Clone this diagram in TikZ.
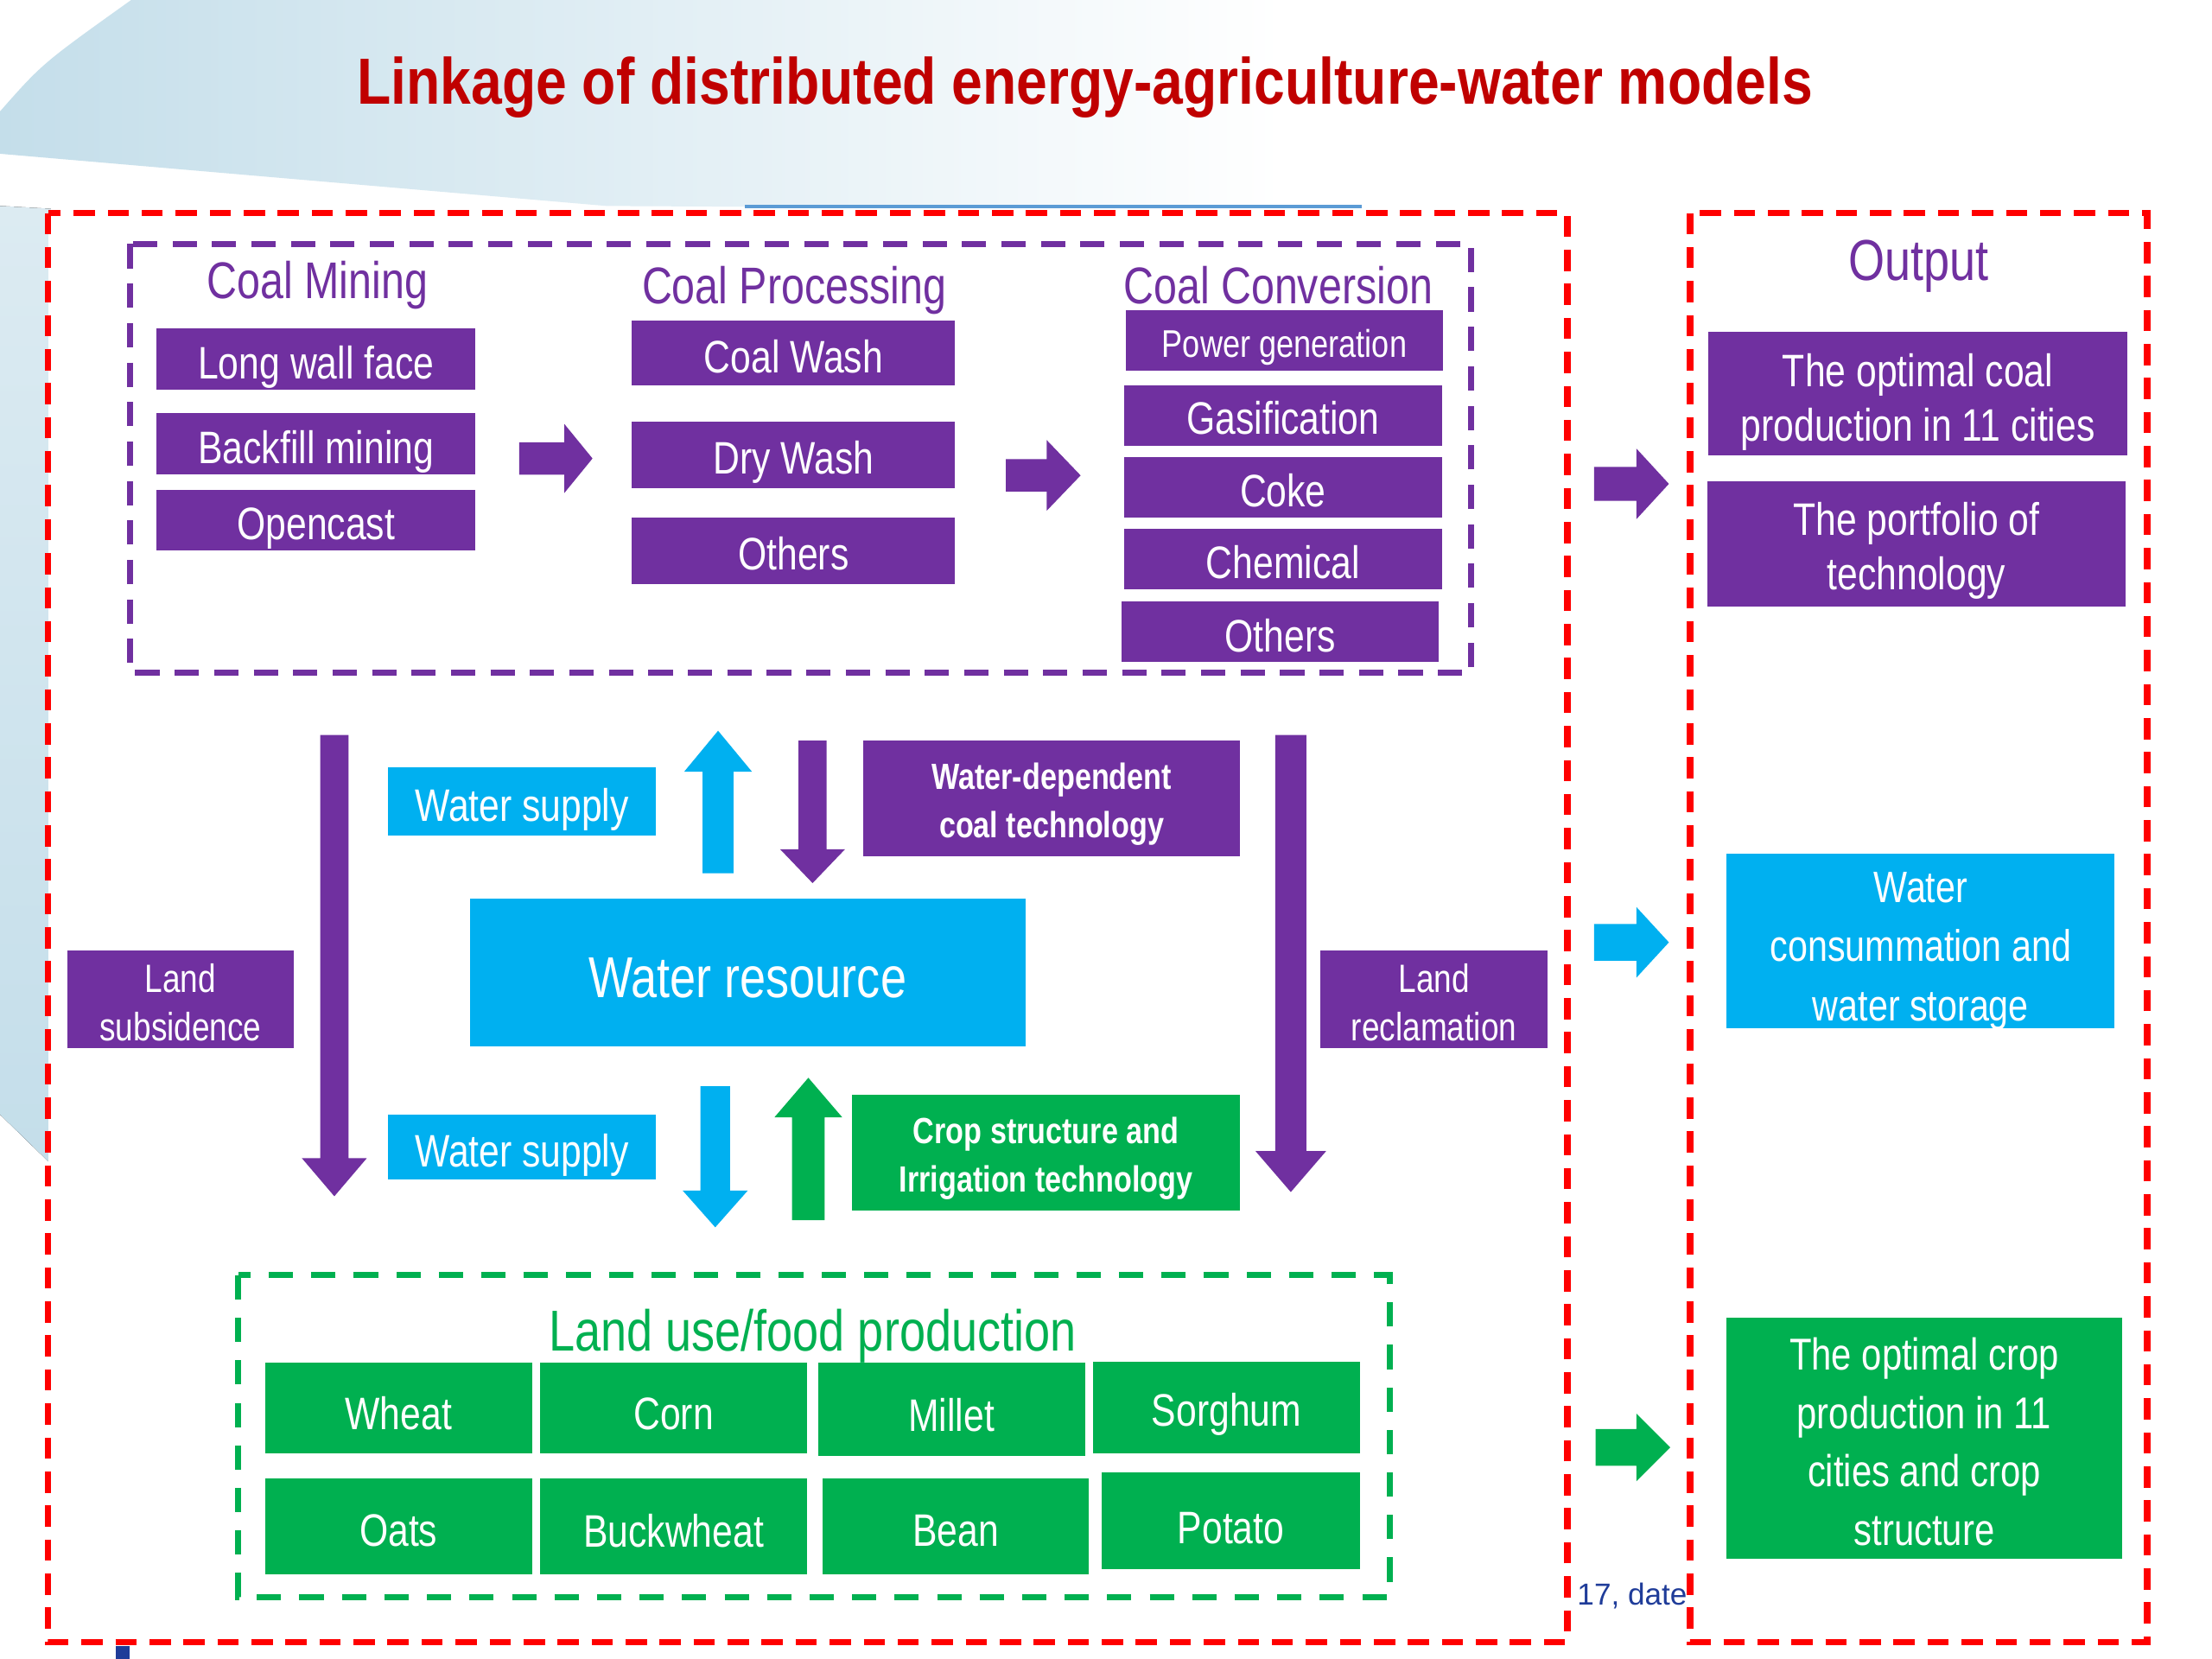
\documentclass[tikz,border=0pt]{standalone}
\usepackage{fontspec}
\setmainfont{Liberation Sans}[FakeStretch=0.81]
\newfontfamily\datefont{Liberation Sans}
\newfontfamily\titlefont{Liberation Sans}[FakeStretch=0.85]
\definecolor{cpurple}{HTML}{7030A0}
\definecolor{cblue}{HTML}{00B0F0}
\definecolor{cgreen}{HTML}{00B050}
\definecolor{cred}{HTML}{FF0000}
\definecolor{ctitle}{HTML}{C00000}
\definecolor{bgblue}{HTML}{C4DEEA}
\definecolor{bgmid}{HTML}{E6F1F6}
\definecolor{bgblue2}{HTML}{DCEBF2}
\definecolor{cline}{HTML}{5B9BD5}
\definecolor{cdate}{HTML}{1F3C99}
\pgfdeclarehorizontalshading{bgfade}{100bp}{color(0bp)=(bgblue); color(25bp)=(bgblue); color(42bp)=(bgmid); color(54bp)=(white); color(100bp)=(white)}
\tikzset{
  box/.style={rectangle, inner sep=0pt, text=white, align=center, font=\fontsize{15}{18}\selectfont},
  pbox/.style={box, fill=cpurple},
  bbox/.style={box, fill=cblue},
  gbox/.style={box, fill=cgreen},
  hdr/.style={inner sep=0pt, font=\fontsize{17}{20}\selectfont},
  reddash/.style={draw=cred, line width=2.1pt, dash pattern=on 7pt off 4.2pt, fill=white},
  purpledash/.style={draw=cpurple, line width=2pt, dash pattern=on 8pt off 5pt},
  greendash/.style={draw=cgreen, line width=2pt, dash pattern=on 8pt off 6pt},
}
% name, x1, y1, x2, y2, style, text, text drop (px)
\newcommand\bx[8]{%
  \node[#6, minimum width={(#4-#2)*0.46455pt}, minimum height={(#5-#3)*0.46455pt}] (#1) at ({(#2+#4)/2},{(#3+#5)/2}) {};
  \node[#6, fill=none, yshift={-(#8)*0.46455pt}] (#1t) at (#1.center) {#7};}
% right arrow: x0, xtip, yc, h, H, L, color
\newcommand\rarrow[7]{\fill[#7] ({#1},{#3-#4}) -- ({#2-#6},{#3-#4}) -- ({#2-#6},{#3-#5}) -- ({#2},{#3}) -- ({#2-#6},{#3+#5}) -- ({#2-#6},{#3+#4}) -- ({#1},{#3+#4}) -- cycle;}
% down arrow: xc, ystart, ytip, h, H, L, color
\newcommand\darrow[7]{\fill[#7] ({#1-#4},{#2}) -- ({#1-#4},{#3-#6}) -- ({#1-#5},{#3-#6}) -- ({#1},{#3}) -- ({#1+#5},{#3-#6}) -- ({#1+#4},{#3-#6}) -- ({#1+#4},{#2}) -- cycle;}
% up arrow
\newcommand\uarrow[7]{\fill[#7] ({#1-#4},{#2}) -- ({#1-#4},{#3+#6}) -- ({#1-#5},{#3+#6}) -- ({#1},{#3}) -- ({#1+#5},{#3+#6}) -- ({#1+#4},{#3+#6}) -- ({#1+#4},{#2}) -- cycle;}
\begin{document}
\begin{tikzpicture}[x=0.46455pt, y=-0.46455pt]
\useasboundingbox (0,0) rectangle (1568,1176);
\fill[white] (0,0) rectangle (1568,1176);
% background swoosh
\shade[shading=bgfade] (93,0) -- (1568,0) -- (1568,152) -- (430,146) -- (0,109) -- (0,79) .. controls (30,45) .. (93,0);
\fill[top color=bgblue2, bottom color=bgblue] (0,146) -- (36,148) -- (36,825) -- (0,790) -- cycle;
% top blue line
\draw[cline, line width=1pt] (528,146.5) -- (965,146.5);
% outer dashed frames
\draw[reddash] (34,151) rectangle (1111,1164);
\draw[reddash] (1198,151) rectangle (1522,1164);
\fill[cdate] (82,1167) rectangle (92,1176);
% title
\node[inner sep=0pt, text=ctitle, font=\titlefont\fontsize{21.5}{26}\bfseries] (title) at (769,62) {Linkage of distributed energy-agriculture-water models};
% coal chain
\draw[purpledash] (92,173) rectangle (1043,477);
\node[hdr, text=cpurple] (hmine) at (225,202) {Coal Mining};
\node[hdr, text=cpurple] (hproc) at (563,206) {Coal Processing};
\node[hdr, text=cpurple] (hconv) at (906,202) {Coal Conversion};
\bx{lwf}{111}{233}{337}{276}{pbox}{Long wall face}{6}
\bx{bfm}{111}{293}{337}{336}{pbox}{Backfill mining}{6}
\bx{opc}{111}{347}{337}{390}{pbox}{Opencast}{6}
\bx{cw}{448}{227}{677}{273}{pbox}{Coal Wash}{3}
\bx{dw}{448}{299}{677}{346}{pbox}{Dry Wash}{5}
\bx{oth1}{448}{367}{677}{414}{pbox}{Others}{2}
\bx{pg}{798}{220}{1023}{263}{pbox, font=\fontsize{12.7}{15}\selectfont}{Power generation}{5}
\bx{gas}{797}{273}{1022}{316}{pbox}{Gasification}{1.5}
\bx{coke}{797}{324}{1022}{367}{pbox}{Coke}{2}
\bx{chem}{797}{375}{1022}{418}{pbox}{Chemical}{2}
\bx{oth2}{795}{426}{1020}{469}{pbox}{Others}{3}
\rarrow{368}{420}{325}{11.5}{24.5}{20}{cpurple}
\rarrow{713}{766}{337}{11.5}{25}{24}{cpurple}
% output column
\node[inner sep=0pt, text=cpurple, font=\fontsize{19}{22}\selectfont] (hout) at (1360,189) {Output};
\bx{o1}{1211}{235}{1508}{323}{pbox}{The optimal coal\\production in 11 cities}{6}
\bx{o2}{1210}{341}{1507}{430}{pbox}{The portfolio of\\technology}{5}
\bx{o3}{1224}{605}{1499}{729}{bbox, font=\fontsize{14.5}{19.5}\selectfont}{Water\\consummation and\\water storage}{7}
\bx{o4}{1224}{934}{1504}{1105}{gbox, font=\fontsize{14.7}{19.3}\selectfont}{The optimal crop\\production in 11\\cities and crop\\structure}{2.5}
\rarrow{1130}{1183}{343}{12}{25}{23}{cpurple}
\rarrow{1130}{1183}{668}{13}{25}{23}{cblue}
\rarrow{1131}{1184}{1026}{13}{24}{24}{cgreen}
% middle
\darrow{237}{521}{848}{10}{23}{27}{cpurple}
\darrow{915}{521}{845}{11}{25}{29}{cpurple}
\bx{ls}{48}{674}{208}{743}{pbox, font=\fontsize{13}{16}\selectfont}{Land\\subsidence}{2}
\bx{lr}{936}{674}{1097}{743}{pbox, font=\fontsize{13}{16}\selectfont}{Land\\reclamation}{2}
\bx{ws1}{275}{544}{465}{592}{bbox}{Water supply}{6}
\bx{ws2}{275}{790}{465}{836}{bbox}{Water supply}{6}
\bx{wr}{333}{637}{727}{742}{bbox, font=\fontsize{19}{22}\selectfont}{Water resource}{4}
\bx{wdc}{612}{525}{879}{607}{pbox, font=\fontsize{12}{16}\bfseries}{Water-dependent\\coal technology}{4}
\bx{csi}{604}{776}{879}{858}{gbox, font=\fontsize{12}{16}\bfseries}{Crop structure and\\Irrigation technology}{4}
\uarrow{509}{619}{518}{11}{24}{29}{cblue}
\darrow{576}{525}{626}{10}{23}{24}{cpurple}
\darrow{507}{770}{870}{10.5}{23}{26}{cblue}
\uarrow{573}{865}{764}{11.5}{24}{28}{cgreen}
% land use
\draw[greendash] (169,904) rectangle (985,1132);
\node[inner sep=0pt, text=cgreen, font=\fontsize{19}{22}\selectfont] (hland) at (576,947) {Land use/food production};
\bx{wheat}{188}{966}{377}{1030}{gbox}{Wheat}{4}
\bx{corn}{383}{966}{572}{1030}{gbox}{Corn}{4}
\bx{millet}{580}{966}{769}{1032}{gbox}{Millet}{4}
\bx{sorghum}{775}{965}{964}{1030}{gbox}{Sorghum}{5}
\bx{oats}{188}{1048}{377}{1116}{gbox}{Oats}{3}
\bx{buck}{383}{1048}{572}{1116}{gbox}{Buckwheat}{3}
\bx{bean}{583}{1048}{772}{1116}{gbox}{Bean}{3}
\bx{potato}{781}{1044}{964}{1112}{gbox}{Potato}{5}
\node[inner sep=0pt, text=cdate, font=\datefont\fontsize{10}{12}\selectfont] (date) at (1157,1131) {17, date};
\end{tikzpicture}
\end{document}
